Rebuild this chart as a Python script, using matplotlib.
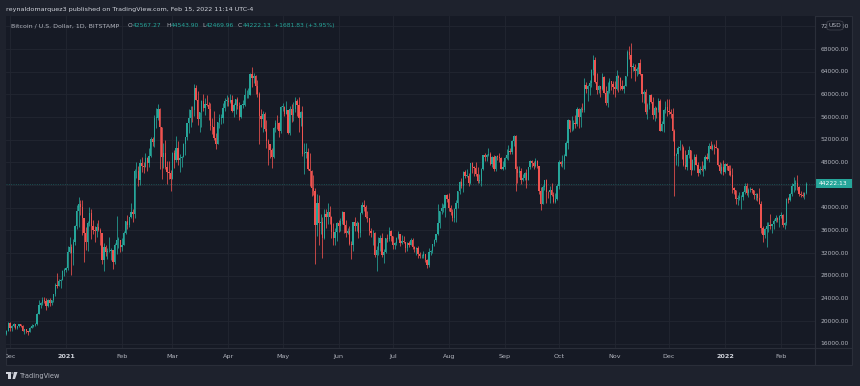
import matplotlib
matplotlib.use('Agg')
import matplotlib.pyplot as plt
import matplotlib.patches as patches
import matplotlib.dates as mdates
import matplotlib.transforms as mtransforms
from matplotlib.lines import Line2D
import numpy as np
import pandas as pd

plt.rcParams['font.family'] = 'DejaVu Sans'

# --- colours (TradingView dark theme) ---
BG_OUTER = '#1e222d'
BG_PANE = '#161a25'
GRID = '#222631'
BORDER = '#2a2e39'
TEXT = '#b2b5be'
UP = '#26a69a'
DOWN = '#ef5350'

# --- data: BTC/USD daily, Bitstamp, thousands of USD ---
first_day = '2020-11-29'
first_open_k = 17.7

close_k = [
    18.2, 19.7,  # Nov 2020
    18.8, 19.2, 19.4, 18.7, 19.2, 19.4, 19.2, 18.3, 18.6, 18.3,
    18.0, 18.8, 19.2, 19.3, 19.4, 21.3, 22.8, 23.1, 23.8, 23.5,
    22.7, 23.8, 23.2, 23.7, 24.7, 26.4, 26.2, 27.0, 27.3, 28.8, 29.0,  # Dec
    29.4, 32.2, 33.0, 32.0, 34.0, 36.8, 39.4, 40.6, 40.2, 38.2,
    35.5, 33.9, 37.3, 39.1, 36.8, 36.0, 35.8, 36.6, 36.0, 35.5,
    30.8, 33.0, 32.1, 32.3, 32.3, 32.5, 30.4, 33.4, 34.3, 34.3, 33.1,  # Jan 2021
    33.5, 35.5, 37.6, 36.9, 38.3, 39.3, 38.9, 46.4, 46.5, 44.9,
    47.9, 47.4, 47.2, 48.7, 47.9, 49.2, 52.1, 51.6, 55.9, 55.9,
    57.5, 54.2, 48.9, 49.7, 47.1, 46.3, 46.2, 45.1,  # Feb
    49.6, 48.4, 50.5, 48.4, 48.8, 48.9, 51.2, 52.4, 54.9, 55.9,
    57.3, 57.2, 61.2, 59.0, 55.6, 56.9, 58.9, 57.6, 58.3, 58.1,
    57.4, 54.5, 54.3, 52.3, 51.3, 55.1, 55.8, 55.8, 57.6, 58.8, 58.8,  # Mar
    58.7, 59.0, 57.1, 58.2, 59.1, 58.0, 56.0, 58.1, 58.1, 59.8,
    59.8, 59.9, 63.6, 62.9, 63.2, 61.4, 60.1, 56.2, 55.7, 56.5,
    53.8, 51.7, 51.2, 50.1, 49.0, 54.0, 55.0, 54.9, 53.6, 57.8,  # Apr
    57.8, 56.6, 57.2, 53.2, 57.4, 56.4, 57.4, 58.9, 58.2, 55.9,
    56.8, 49.5, 49.7, 49.9, 46.8, 46.4, 43.5, 42.9, 37.0, 40.8,
    37.3, 37.5, 34.7, 38.8, 38.4, 39.3, 38.4, 35.7, 34.6, 35.7, 37.3,  # May
    36.7, 37.6, 39.2, 36.9, 35.5, 35.8, 33.6, 33.4, 37.4, 36.7,
    37.3, 35.6, 39.1, 40.5, 40.1, 38.3, 38.1, 35.8, 35.5, 35.6,
    31.7, 32.5, 33.7, 34.7, 31.6, 32.2, 34.7, 34.5, 35.9, 35.0,  # Jun
    33.5, 33.8, 34.7, 35.3, 33.7, 34.2, 33.9, 32.9, 33.8, 33.5,
    34.3, 33.1, 32.7, 32.8, 31.8, 31.4, 31.5, 31.8, 30.8, 29.8,
    32.1, 32.3, 33.6, 34.3, 35.4, 37.3, 39.5, 40.0, 40.0, 42.2, 41.6,  # Jul
    39.9, 39.2, 38.2, 39.7, 40.9, 42.9, 44.6, 43.8, 46.3, 45.6,
    45.6, 44.4, 47.8, 47.1, 47.0, 45.9, 44.7, 44.7, 46.8, 49.3,
    48.9, 49.3, 49.5, 47.7, 48.9, 46.9, 49.1, 48.9, 48.8, 46.9, 47.1,  # Aug
    48.8, 49.3, 50.0, 49.9, 51.8, 52.7, 46.9, 46.1, 46.4, 44.9,
    45.2, 46.1, 44.9, 47.1, 48.2, 47.8, 47.3, 48.3, 47.3, 43.0,
    40.7, 43.6, 44.9, 42.8, 42.7, 43.2, 42.2, 41.0, 41.5, 43.8,  # Sep
    48.1, 47.7, 48.2, 49.2, 51.5, 55.4, 53.8, 53.9, 55.0, 54.7,
    57.5, 56.0, 57.4, 57.3, 61.7, 60.9, 61.5, 62.0, 64.3, 66.0,
    62.2, 60.7, 61.4, 60.9, 63.1, 60.3, 58.5, 60.6, 62.3, 61.9, 61.3,  # Oct
    61.0, 63.2, 62.9, 61.4, 61.0, 61.5, 63.3, 67.5, 66.9, 64.9,
    64.9, 64.2, 64.4, 65.5, 63.6, 60.1, 60.4, 56.9, 58.1, 59.8,
    58.7, 56.3, 57.6, 57.2, 58.9, 53.6, 54.8, 57.3, 57.8, 57.0,  # Nov
    56.9, 56.5, 53.6, 49.2, 49.4, 50.6, 50.6, 50.5, 47.6, 47.1,
    49.3, 50.1, 46.7, 48.4, 48.9, 47.6, 46.2, 46.9, 46.7, 46.9,
    49.0, 48.6, 50.8, 50.4, 50.8, 50.7, 50.6, 47.5, 46.5, 47.1, 46.3,  # Dec
    47.7, 47.3, 46.4, 45.8, 43.4, 43.1, 41.5, 41.7, 41.8, 41.8,
    42.7, 43.9, 42.6, 43.1, 43.2, 43.1, 42.2, 42.4, 41.7, 40.7,
    36.5, 35.1, 36.3, 36.7, 36.9, 36.8, 37.2, 37.7, 38.2, 37.9, 38.5,  # Jan 2022
    38.7, 36.9, 37.3, 41.6, 41.4, 42.4, 43.8, 44.1, 44.4, 43.6,
    42.4, 42.2, 42.1, 42.56727, 44.22213,  # Feb
]

high_k = [
    18.35, 19.85,
    19.9, 19.3, 19.6, 19.5, 19.2, 19.4, 19.4, 19.3, 18.6, 18.6,
    18.3, 18.9, 19.4, 19.3, 19.6, 21.5, 23.8, 23.3, 24.2, 24.3,
    24.1, 23.9, 24.1, 23.8, 24.8, 26.8, 28.4, 27.4, 27.4, 29.0, 29.3,
    29.6, 33.3, 34.8, 33.6, 34.5, 36.9, 40.4, 41.9, 41.4, 41.4,
    38.2, 36.6, 37.7, 40.1, 39.7, 37.9, 36.8, 37.3, 37.8, 36.4,
    35.6, 33.8, 33.5, 32.9, 34.8, 32.9, 32.6, 33.8, 38.5, 34.9, 34.3,
    34.7, 35.9, 37.7, 38.7, 38.3, 40.9, 39.7, 46.8, 48.0, 47.3,
    48.6, 48.9, 48.1, 49.7, 49.0, 50.5, 52.5, 52.5, 56.3, 57.6,
    58.3, 57.6, 54.2, 51.4, 52.0, 48.3, 48.2, 46.6,
    49.8, 50.1, 52.6, 51.7, 49.4, 49.2, 51.4, 52.4, 54.9, 57.4,
    58.0, 58.0, 61.8, 61.7, 60.6, 56.9, 59.0, 60.0, 59.4, 59.8,
    58.6, 58.4, 55.8, 57.1, 53.2, 55.1, 56.6, 56.6, 58.4, 59.4, 59.8,
    59.5, 60.0, 59.8, 58.5, 59.2, 59.5, 58.6, 58.2, 59.0, 61.2,
    60.7, 61.2, 63.7, 64.8, 63.8, 63.5, 62.5, 60.4, 57.5, 57.0,
    56.8, 55.4, 52.1, 51.2, 50.5, 54.3, 55.4, 56.4, 55.2, 58.0,
    58.5, 57.9, 58.9, 57.2, 57.9, 58.3, 58.6, 59.5, 59.2, 59.5,
    57.0, 58.0, 51.4, 51.5, 50.6, 49.7, 46.6, 45.7, 43.5, 42.5,
    42.2, 38.8, 38.3, 39.8, 39.8, 40.8, 40.3, 38.5, 37.3, 36.4, 37.5,
    37.9, 38.2, 39.5, 39.2, 37.9, 36.5, 36.8, 34.1, 37.5, 38.4,
    37.7, 37.4, 39.3, 41.0, 41.3, 40.5, 39.5, 38.2, 36.4, 36.1,
    35.7, 33.3, 34.8, 35.2, 35.5, 32.7, 34.7, 35.3, 36.6, 36.0,
    35.0, 33.9, 34.9, 35.9, 35.3, 35.1, 35.0, 33.9, 34.0, 34.2,
    34.6, 34.6, 33.3, 33.1, 33.2, 32.2, 31.9, 32.4, 31.9, 31.0,
    32.8, 32.6, 33.6, 34.5, 35.4, 40.6, 39.5, 40.9, 40.6, 42.3, 42.4,
    42.6, 40.4, 39.8, 39.9, 41.4, 43.0, 44.7, 45.3, 46.4, 46.7,
    46.8, 46.2, 47.8, 48.1, 47.4, 48.0, 47.1, 45.9, 47.0, 49.3,
    49.7, 49.4, 50.5, 49.9, 49.2, 49.3, 49.2, 49.3, 49.6, 48.9, 48.3,
    48.9, 50.3, 51.0, 50.5, 51.9, 52.8, 52.9, 47.3, 47.3, 47.0,
    45.9, 46.3, 46.9, 47.2, 48.4, 48.5, 48.2, 48.8, 48.4, 47.3,
    43.6, 44.0, 44.9, 45.1, 42.9, 43.9, 44.3, 42.7, 42.6, 44.1,
    48.4, 48.3, 49.3, 49.4, 51.8, 55.7, 55.5, 56.1, 55.4, 56.4,
    57.8, 57.6, 57.7, 58.5, 62.8, 62.2, 61.6, 62.6, 64.4, 67.0,
    66.6, 63.7, 61.7, 61.5, 63.7, 63.2, 61.4, 62.2, 62.9, 62.3, 62.4,
    62.4, 64.3, 63.5, 63.1, 62.6, 61.6, 63.3, 67.8, 68.5, 69.0,
    65.6, 65.4, 64.9, 65.5, 66.3, 63.6, 60.7, 60.9, 58.4, 59.9,
    60.0, 59.5, 57.9, 57.8, 59.4, 59.2, 55.3, 57.4, 58.9, 59.2,
    59.1, 57.4, 57.6, 53.9, 49.7, 50.9, 51.9, 51.2, 50.8, 50.1,
    49.5, 50.8, 50.2, 48.6, 49.5, 49.4, 48.0, 47.3, 48.3, 47.5,
    49.3, 49.6, 51.4, 51.8, 51.2, 51.3, 52.0, 50.6, 48.1, 47.9, 48.5,
    47.9, 47.9, 47.5, 47.5, 47.0, 43.7, 43.1, 42.3, 42.7, 42.2,
    43.0, 44.3, 44.3, 43.4, 43.7, 43.5, 43.2, 42.6, 42.6, 43.4,
    41.1, 36.8, 36.4, 37.5, 37.5, 38.9, 37.2, 38.0, 38.7, 38.4, 38.7,
    39.2, 38.8, 37.4, 41.7, 41.9, 42.6, 44.4, 45.5, 44.8, 45.8,
    43.9, 43.0, 42.8, 42.8, 44.5439,
]

low_k = [
    17.5, 18.2,
    18.2, 18.3, 18.9, 18.6, 18.6, 18.9, 18.9, 18.2, 17.7, 17.9,
    17.6, 18.0, 18.7, 19.0, 19.1, 19.3, 21.2, 22.3, 22.8, 23.1,
    22.0, 22.4, 22.7, 22.8, 23.4, 24.5, 25.8, 26.1, 25.8, 27.3, 28.0,
    28.7, 29.0, 32.0, 28.1, 29.9, 33.5, 36.3, 36.6, 38.7, 35.1,
    30.4, 32.5, 32.4, 36.7, 34.4, 35.4, 33.9, 34.8, 35.8, 33.4,
    30.0, 28.8, 31.4, 31.0, 32.1, 30.8, 29.2, 30.1, 31.9, 32.8, 32.2,
    32.3, 33.4, 35.4, 36.2, 36.6, 38.2, 37.4, 38.1, 45.2, 43.8,
    44.0, 46.3, 46.2, 47.1, 46.4, 47.1, 48.9, 50.9, 50.7, 54.0,
    55.5, 46.9, 45.0, 47.0, 46.9, 44.1, 45.0, 43.0,
    45.0, 47.0, 48.1, 47.5, 46.3, 47.1, 48.9, 49.3, 52.0, 53.1,
    54.3, 55.1, 56.1, 59.0, 54.6, 53.3, 54.2, 57.0, 56.3, 57.9,
    55.5, 53.7, 53.0, 52.0, 50.4, 51.3, 54.0, 54.7, 55.0, 57.1, 57.9,
    57.9, 58.5, 56.9, 56.0, 56.5, 57.4, 55.5, 55.9, 57.6, 57.9,
    59.3, 59.4, 59.8, 61.3, 62.0, 60.0, 59.6, 51.3, 54.2, 53.4,
    53.6, 50.5, 47.5, 48.8, 47.0, 48.8, 53.3, 53.9, 52.4, 53.1,
    57.0, 56.1, 56.5, 53.0, 52.9, 55.2, 55.3, 56.9, 56.2, 53.4,
    54.4, 49.2, 46.0, 48.8, 46.6, 43.9, 42.1, 42.3, 30.0, 35.0,
    33.5, 35.3, 31.1, 34.4, 36.4, 37.2, 37.2, 34.7, 33.4, 33.4, 34.2,
    35.7, 35.9, 37.2, 35.6, 34.8, 35.3, 33.4, 31.0, 32.4, 35.8,
    35.9, 34.7, 34.9, 38.8, 39.5, 38.2, 37.4, 35.1, 34.8, 33.4,
    31.3, 28.8, 31.7, 32.3, 31.3, 30.2, 32.0, 33.9, 34.2, 34.1,
    32.7, 32.7, 33.4, 34.4, 33.2, 33.6, 33.8, 32.1, 32.3, 33.1,
    33.4, 32.7, 32.2, 31.6, 31.2, 31.1, 31.2, 31.1, 30.4, 29.3,
    29.5, 31.7, 32.0, 33.3, 33.9, 35.2, 36.4, 38.8, 39.3, 38.3, 41.0,
    39.5, 38.7, 37.6, 37.5, 37.5, 39.9, 42.5, 43.4, 42.8, 45.3,
    45.5, 43.8, 44.2, 46.1, 45.6, 45.6, 44.4, 44.4, 43.9, 46.7,
    48.3, 48.2, 49.1, 47.6, 47.1, 46.4, 46.4, 48.4, 48.0, 46.9, 46.7,
    46.9, 48.6, 48.5, 49.5, 49.5, 50.9, 43.0, 44.4, 45.5, 44.2,
    44.7, 44.8, 43.4, 44.8, 46.8, 47.1, 46.8, 47.1, 47.0, 42.5,
    39.6, 40.6, 43.1, 40.8, 41.7, 40.8, 42.1, 40.8, 40.8, 41.4,
    43.3, 47.4, 47.1, 46.9, 49.1, 50.4, 53.4, 53.6, 53.7, 54.1,
    54.4, 54.0, 54.2, 56.8, 56.9, 60.2, 58.9, 59.9, 61.3, 63.5,
    62.0, 60.0, 60.2, 59.6, 60.7, 60.2, 58.1, 57.8, 60.2, 60.7, 60.0,
    59.5, 60.7, 60.4, 60.7, 60.8, 60.2, 61.4, 63.2, 66.3, 62.8,
    64.1, 62.3, 63.3, 63.6, 63.4, 58.6, 58.4, 56.5, 55.7, 57.4,
    58.5, 55.6, 55.3, 55.9, 56.8, 53.5, 53.5, 53.3, 56.7, 56.1,
    56.5, 55.8, 51.7, 42.0, 47.6, 47.3, 50.1, 48.6, 47.4, 46.9,
    46.7, 48.7, 45.8, 46.6, 46.6, 47.5, 45.6, 45.9, 46.4, 45.6,
    46.6, 48.4, 48.0, 50.4, 50.2, 49.4, 50.5, 47.3, 46.1, 46.0, 45.7,
    46.2, 46.7, 45.7, 45.6, 42.6, 42.5, 40.7, 40.5, 41.3, 39.7,
    41.3, 42.5, 42.3, 41.8, 42.7, 42.6, 41.6, 41.3, 41.1, 40.6,
    35.6, 34.0, 34.6, 33.0, 35.7, 36.3, 35.5, 36.2, 37.4, 37.4, 36.6,
    38.1, 36.6, 36.3, 37.0, 40.9, 41.1, 42.1, 42.7, 43.2, 43.2,
    42.0, 41.8, 41.9, 41.6, 42.46996,
]

price_ticks = np.arange(16000, 72001, 4000)
month_labels = ['Dec', '2021', 'Feb', 'Mar', 'Apr', 'May', 'Jun', 'Jul',
                'Aug', 'Sep', 'Oct', 'Nov', 'Dec', '2022', 'Feb']
month_starts = pd.date_range('2020-12-01', '2022-02-01', freq='MS')

header = 'reynaldomarquez3 published on TradingView.com, Feb 15, 2022 11:14 UTC-4'
symbol = 'Bitcoin / U.S. Dollar, 1D, BITSTAMP'
ohlc_fields = [('O', '42567.27'), ('H', '44543.90'), ('L', '42469.96'), ('C', '44222.13')]
change_text = '+1681.83 (+3.95%)'

# --- geometry in pixels of the 860x386 picture ---
W, H = 860, 386


def fx(px):
    return px / W


def fy(py):
    return 1 - py / H


fig = plt.figure(figsize=(W / 100, H / 100), dpi=100, facecolor=BG_OUTER)

# chart pane background
fig.add_artist(patches.Rectangle((fx(6), fy(365)), fx(852) - fx(6), fy(16) - fy(365),
                                 transform=fig.transFigure, facecolor=BG_PANE,
                                 edgecolor=BORDER, lw=0.8, zorder=0))

ax = fig.add_axes([fx(6), fy(348), fx(815) - fx(6), fy(16) - fy(348)], facecolor=BG_PANE)
day0 = mdates.date2num(pd.Timestamp('2020-12-01'))
px_per_day = 1.8055
ax.set_xlim(day0 - 4 / px_per_day, day0 + 805 / px_per_day)
ax.set_ylim(15243, 73823)

# candles
dates = pd.date_range(first_day, periods=len(close_k), freq='D')
xs = mdates.date2num(dates)
c = np.array(close_k) * 1000
h = np.array(high_k) * 1000
l = np.array(low_k) * 1000
o = np.r_[first_open_k, close_k[:-1]] * 1000
cols = np.where(c >= o, UP, DOWN)
ax.vlines(xs, l, h, colors=cols, lw=0.55, zorder=3)
body = np.maximum(np.abs(c - o), 120)
ax.bar(xs, body, bottom=np.minimum(o, c), width=0.7, color=cols, lw=0, zorder=4)

# grid
ax.set_xticks(mdates.date2num(month_starts))
ax.set_yticks(price_ticks)
ax.grid(True, color=GRID, lw=0.6)
ax.tick_params(length=0, labelbottom=False, labelleft=False)
for s in ax.spines.values():
    s.set_visible(False)

# last price dotted line
last = c[-1]
ax.axhline(last, color=UP, lw=0.6, ls=(0, (1.2, 1.6)), alpha=0.45, zorder=2)

# price scale labels
trans_y = mtransforms.blended_transform_factory(fig.transFigure, ax.transData)
for p in price_ticks:
    ax.text(fx(849), p, f'{p:.2f}', transform=trans_y, ha='right', va='center',
            fontsize=4.3, color=TEXT, clip_on=False)

# USD badge, drawn over the top price label as in the original
fig.add_artist(patches.FancyBboxPatch((fx(827), fy(30)), fx(843) - fx(827), fy(21) - fy(30),
                                      boxstyle='round,pad=0,rounding_size=0.004',
                                      transform=fig.transFigure, facecolor=BG_PANE,
                                      edgecolor='#434651', lw=0.5, zorder=5))
fig.text(fx(835), fy(25.5), 'USD', ha='center', va='center', fontsize=4.3, color=TEXT, zorder=6)

# last price tag
px_h = (73823 - 15243) / 332
ax.add_patch(patches.Rectangle((fx(815), last - 4.5 * px_h), fx(852) - fx(815), 9 * px_h,
                               transform=trans_y, facecolor=UP, edgecolor='none',
                               clip_on=False, zorder=5))
ax.text(fx(833.5), last, f'{last:.2f}', transform=trans_y, ha='center', va='center',
        fontsize=4.3, color='white', clip_on=False, zorder=6)

# separators of the scales
fig.add_artist(Line2D([fx(815), fx(815)], [fy(16), fy(365)], color=BORDER, lw=0.8))
fig.add_artist(Line2D([fx(6), fx(852)], [fy(348), fy(348)], color=BORDER, lw=0.8))

# time scale
tax = fig.add_axes([fx(6), fy(365), fx(815) - fx(6), fy(348) - fy(365)], facecolor=BG_PANE)
tax.set_xlim(ax.get_xlim())
tax.set_ylim(0, 1)
tax.axis('off')
for d, lab in zip(mdates.date2num(month_starts), month_labels):
    bold = lab.isdigit()
    tax.text(d, 0.5, lab, ha='center', va='center', fontsize=4.6,
             color='#d1d4dc' if bold else TEXT, fontweight='bold' if bold else 'normal',
             clip_on=True)

# header and legend
fig.text(fx(6), fy(9), header, ha='left', va='center', fontsize=4.6, color='#d1d4dc')
fig.text(fx(11), fy(25.7), symbol, ha='left', va='center', fontsize=4.5, color=TEXT)
fig.canvas.draw()
renderer = fig.canvas.get_renderer()
for xpos, (letter, value) in zip([128, 166, 202, 238], ohlc_fields):
    t = fig.text(fx(xpos), fy(25.7), letter, ha='left', va='center', fontsize=4.3, color=TEXT)
    x1 = t.get_window_extent(renderer).x1
    fig.text(x1 / W + 0.0003, fy(25.7), value, ha='left', va='center', fontsize=4.3, color=UP)
fig.text(fx(274), fy(25.7), change_text, ha='left', va='center', fontsize=4.3, color=UP)

# footer: TradingView logo and word mark
fig.add_artist(patches.Rectangle((fx(6), fy(374)), fx(10.5) - fx(6), fy(372) - fy(374),
                                 transform=fig.transFigure, facecolor='#d1d4dc', lw=0))
fig.add_artist(patches.Rectangle((fx(8), fy(379)), fx(10.5) - fx(8), fy(374) - fy(379),
                                 transform=fig.transFigure, facecolor='#d1d4dc', lw=0))
fig.add_artist(patches.Circle((fx(12.3), fy(373)), 0.0013, transform=fig.transFigure,
                              facecolor='#d1d4dc', lw=0))
fig.add_artist(patches.Polygon([(fx(14), fy(372)), (fx(17.5), fy(372)), (fx(15), fy(379)),
                                (fx(12.5), fy(379))], closed=True, transform=fig.transFigure,
                               facecolor='#d1d4dc', lw=0))
fig.text(fx(20), fy(376), 'TradingView', ha='left', va='center', fontsize=4.8, color=TEXT)

fig.savefig('out.png', dpi=100, facecolor=BG_OUTER)
